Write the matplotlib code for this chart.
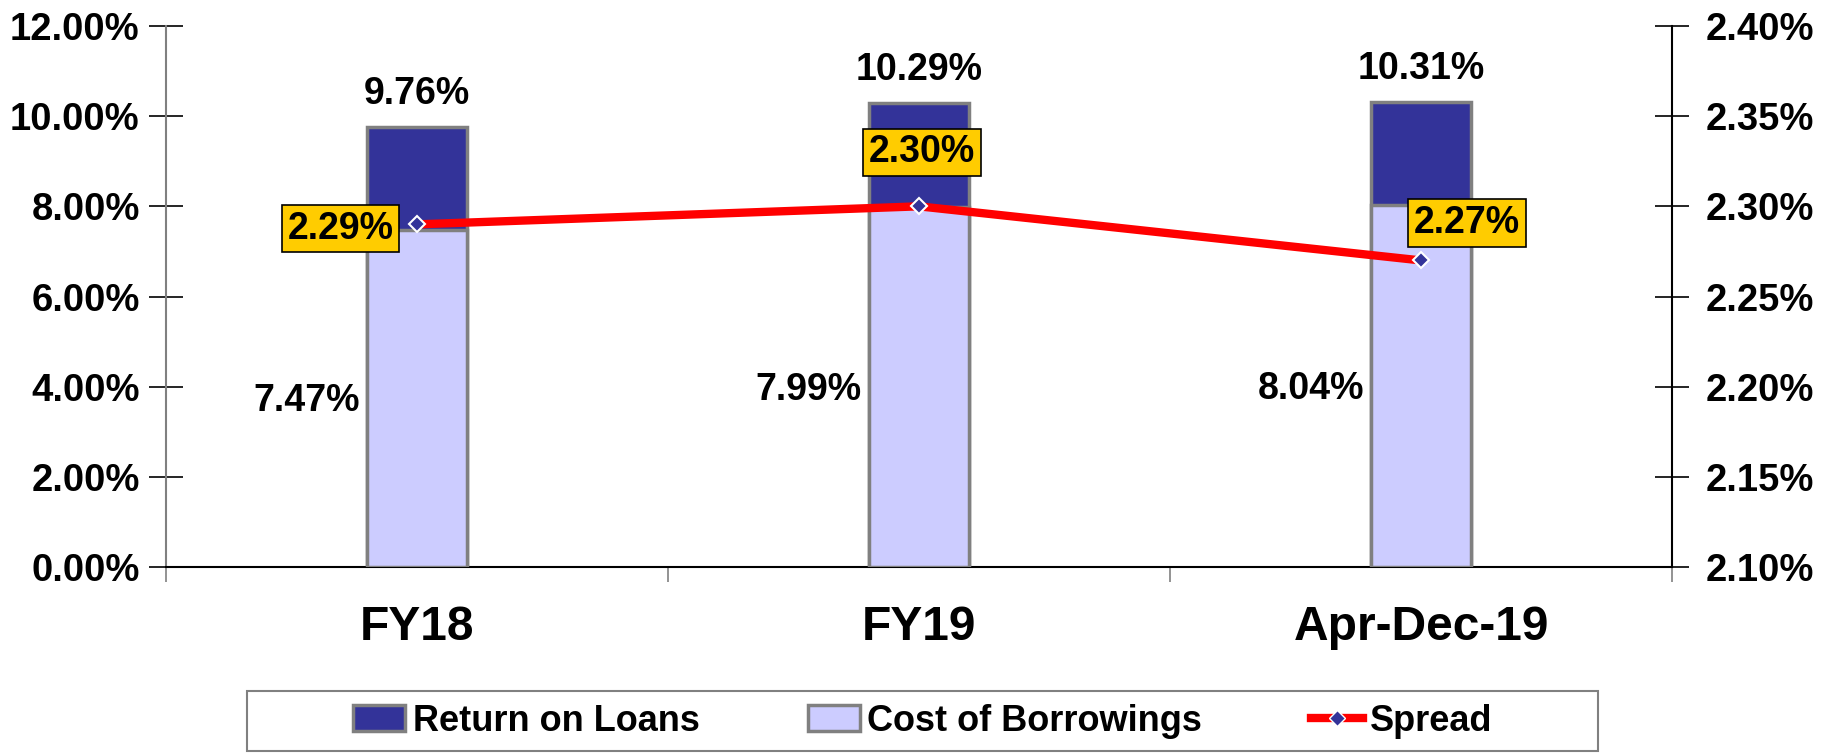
import numpy as np
import matplotlib.pyplot as plt
from matplotlib.patches import Patch, Rectangle
from matplotlib.lines import Line2D

plt.rcParams['font.family'] = ['Liberation Sans', 'DejaVu Sans']
plt.rcParams['font.weight'] = 'bold'

# datos
periodos = ['FY18', 'FY19', 'Apr-Dec-19']
retorno_prestamos = [9.76, 10.29, 10.31]
costo_prestamos = [7.47, 7.99, 8.04]
spread = [2.29, 2.30, 2.27]
ticks_izq = [0, 2, 4, 6, 8, 10, 12]
ticks_der = [2.10, 2.15, 2.20, 2.25, 2.30, 2.35, 2.40]

azul = '#333399'
lila = '#CCCCFF'
gris = '#808080'

fig = plt.figure(figsize=(18.33, 7.56), dpi=100)
ax = fig.add_axes([0.0906, 0.25, 0.8216, 0.7156])
x = np.arange(len(periodos))
ancho = 0.2

# barras superpuestas (no apiladas)
ax.bar(x, retorno_prestamos, ancho, color=azul, edgecolor=gris, linewidth=2.5, zorder=2)
ax.bar(x, costo_prestamos, ancho, color=lila, edgecolor=gris, linewidth=2.5, zorder=3)

for i in range(len(x)):
    ax.annotate(f'{retorno_prestamos[i]:.2f}%', (x[i], retorno_prestamos[i]),
                xytext=(0, 11), textcoords='offset points', ha='center', va='bottom',
                fontsize=27, fontweight='bold')
    ax.annotate(f'{costo_prestamos[i]:.2f}%', (x[i] - ancho / 2, costo_prestamos[i] / 2),
                xytext=(-5, -2), textcoords='offset points', ha='right', va='center',
                fontsize=27, fontweight='bold')

ax.set_xlim(-0.5, 2.5)
ax.set_ylim(0, 12)
ax.set_yticks(ticks_izq)
ax.set_yticklabels([f'{t:.2f}%' for t in ticks_izq], fontsize=27.5, fontweight='bold')
ax.tick_params(axis='y', direction='inout', length=24, width=1.2, pad=7)

ax.set_xticks([-0.5, 0.5, 1.5, 2.5])
ax.set_xticklabels([])
ax.tick_params(axis='x', which='major', direction='out', length=11, width=1.2, color=gris)
ax.set_xticks(x, minor=True)
ax.set_xticklabels(periodos, minor=True, fontsize=34.5, fontweight='bold')
ax.tick_params(axis='x', which='minor', length=0, pad=27)

ax.spines['top'].set_visible(False)
ax.spines['right'].set_visible(False)
ax.spines['left'].set_color(gris)
ax.spines['left'].set_linewidth(1.5)
ax.spines['bottom'].set_color('black')
ax.spines['bottom'].set_linewidth(1.5)

# eje secundario para el spread
ax2 = ax.twinx()
ax2.plot(x, spread, color='red', linewidth=6, marker='D', markersize=8,
         markerfacecolor=azul, markeredgecolor='white', markeredgewidth=1.5, zorder=4)
ax2.set_ylim(2.10, 2.40)
ax2.set_yticks(ticks_der)
ax2.set_yticklabels([f'{t:.2f}%' for t in ticks_der], fontsize=27.5, fontweight='bold')
ax2.tick_params(axis='y', direction='inout', length=24, width=1.2, pad=12)
for lado in ['top', 'left', 'bottom']:
    ax2.spines[lado].set_visible(False)
ax2.spines['right'].set_linewidth(1.5)

desplaz = [(-55, -3), (2, 39), (33, 27)]
for i in range(len(x)):
    ax2.annotate(f'{spread[i]:.2f}%', (x[i], spread[i]), xytext=desplaz[i],
                 textcoords='offset points', ha='center', va='center',
                 fontsize=27, fontweight='bold', zorder=5,
                 bbox=dict(boxstyle='square,pad=0.15', facecolor='#FFCC00',
                           edgecolor='black', linewidth=1.2))

# marco de la leyenda, mas ancho que su contenido
fig.patches.append(Rectangle((0.135, 0.007), 0.737, 0.079, transform=fig.transFigure,
                             facecolor='white', edgecolor=gris, linewidth=1.5, zorder=0))

handles = [Patch(facecolor=azul, edgecolor=gris, linewidth=2.5),
           Patch(facecolor=lila, edgecolor=gris, linewidth=2.5),
           Line2D([0], [0], color='red', linewidth=6, marker='D', markersize=8,
                  markerfacecolor=azul, markeredgecolor='white')]
leg = fig.legend(handles, ['Return on Loans', 'Cost of Borrowings', 'Spread'],
                 loc='center', ncol=3, bbox_to_anchor=(0.5035, 0.046),
                 fontsize=26, frameon=False, handlelength=1.45,
                 handletextpad=0.2, columnspacing=3.0)
for t in leg.get_texts():
    t.set_fontweight('bold')

fig.savefig('out.png', dpi=100)
